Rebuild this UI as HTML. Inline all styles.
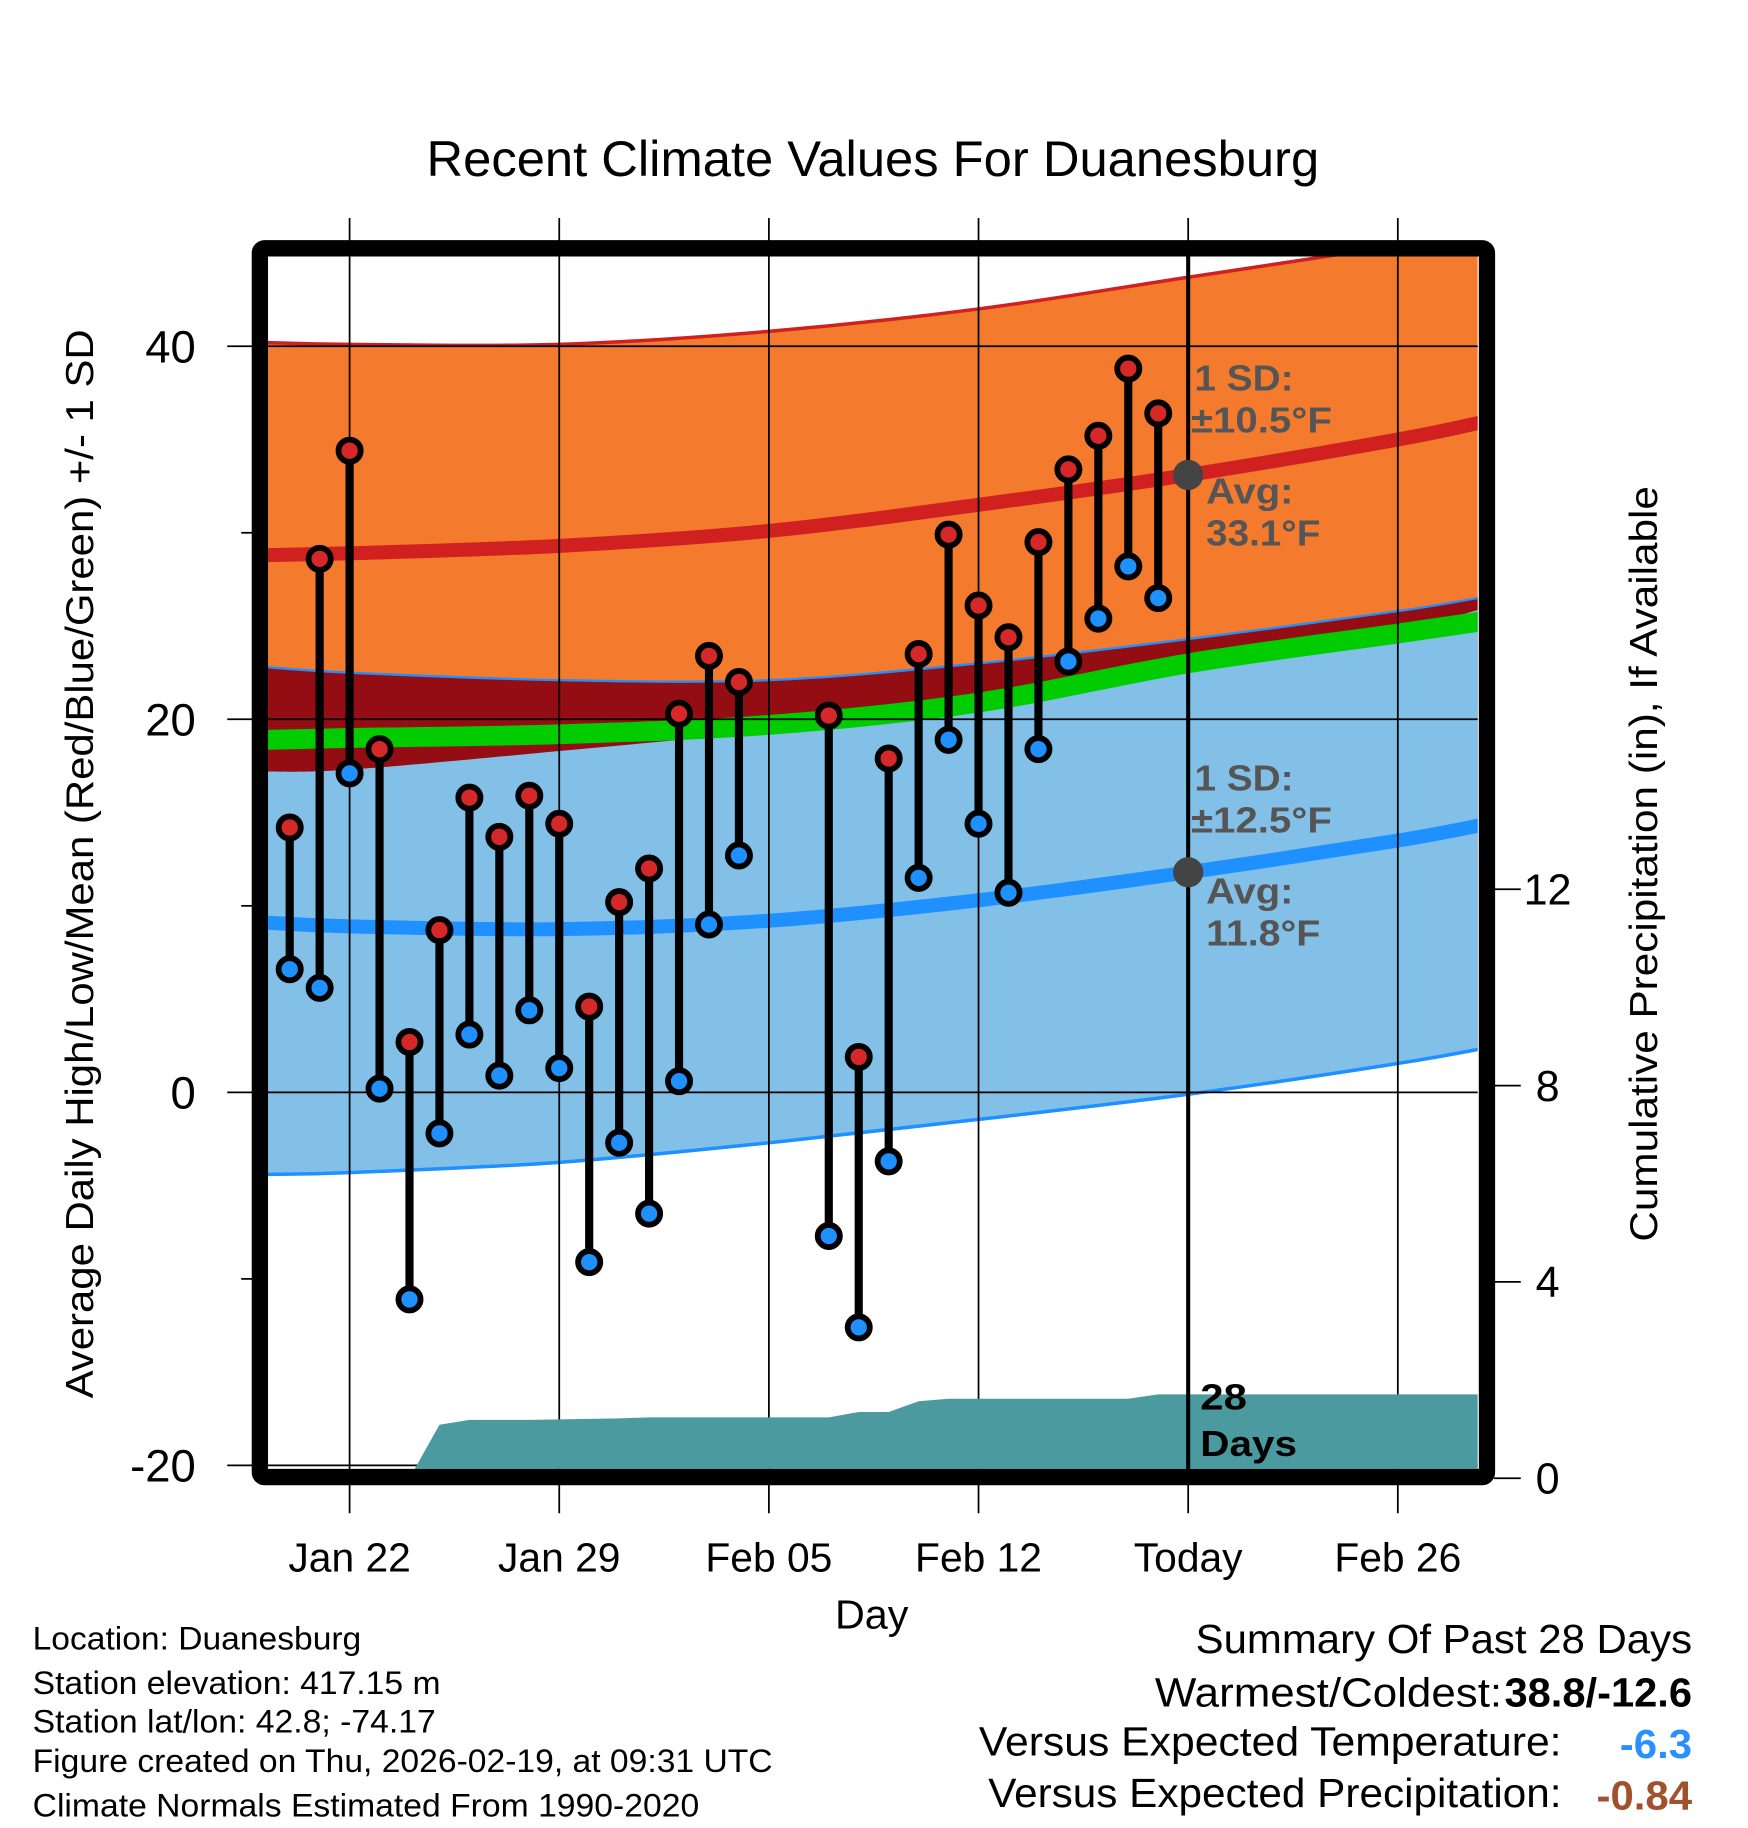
<!DOCTYPE html>
<html><head><meta charset="utf-8"><style>
html,body{margin:0;padding:0;background:#fff}
svg{display:block}
text{font-family:"Liberation Sans",Arial,sans-serif}
</style></head><body>
<svg id="chart" width="1748" height="1828" viewBox="0 0 1500 1568" preserveAspectRatio="none" xmlns="http://www.w3.org/2000/svg">
<defs><clipPath id="plotclip"><rect x="230" y="220" width="1038" height="1040"/></clipPath></defs>
<g id="bands" clip-path="url(#plotclip)"></g>
<g id="grid"></g>
<g id="precip" clip-path="url(#plotclip)"></g>
<g id="marks"></g>
<g id="axes"></g>
<text x="749" y="151" font-size="43" text-anchor="middle" textLength="766" lengthAdjust="spacingAndGlyphs">Recent Climate Values For Duanesburg</text>
<text transform="translate(80,741) rotate(-90)" font-size="33" text-anchor="middle" textLength="917" lengthAdjust="spacingAndGlyphs">Average Daily High/Low/Mean (Red/Blue/Green) +/- 1 SD</text>
<text transform="translate(1422,741) rotate(-90)" font-size="33" text-anchor="middle" textLength="648" lengthAdjust="spacingAndGlyphs">Cumulative Precipitation (in), If Available</text>
<text x="748" y="1397" font-size="35" text-anchor="middle" textLength="63" lengthAdjust="spacingAndGlyphs">Day</text>
<g font-size="31" font-weight="bold" fill="#555">
<text x="1025" y="335" textLength="85" lengthAdjust="spacingAndGlyphs">1 SD:</text><text x="1022" y="371" textLength="121" lengthAdjust="spacingAndGlyphs">±10.5°F</text>
<text x="1035" y="432" textLength="75" lengthAdjust="spacingAndGlyphs">Avg:</text><text x="1035" y="468" textLength="98" lengthAdjust="spacingAndGlyphs">33.1°F</text></g>
<g font-size="31" font-weight="bold" fill="#555">
<text x="1025" y="678" textLength="85" lengthAdjust="spacingAndGlyphs">1 SD:</text><text x="1022" y="714" textLength="121" lengthAdjust="spacingAndGlyphs">±12.5°F</text>
<text x="1035" y="775" textLength="75" lengthAdjust="spacingAndGlyphs">Avg:</text><text x="1035" y="811" textLength="98" lengthAdjust="spacingAndGlyphs">11.8°F</text></g>
<g font-size="31" font-weight="bold" fill="#000">
<text x="1030" y="1209" textLength="40" lengthAdjust="spacingAndGlyphs">28</text><text x="1030" y="1249" textLength="83" lengthAdjust="spacingAndGlyphs">Days</text></g>
<g font-size="28" fill="#000">
<text x="28" y="1415" textLength="282" lengthAdjust="spacingAndGlyphs">Location: Duanesburg</text>
<text x="28" y="1453" textLength="350" lengthAdjust="spacingAndGlyphs">Station elevation: 417.15 m</text>
<text x="28" y="1486" textLength="346" lengthAdjust="spacingAndGlyphs">Station lat/lon: 42.8; -74.17</text>
<text x="28" y="1520" textLength="635" lengthAdjust="spacingAndGlyphs">Figure created on Thu, 2026-02-19, at 09:31 UTC</text>
<text x="28" y="1558" textLength="572" lengthAdjust="spacingAndGlyphs">Climate Normals Estimated From 1990-2020</text></g>
<g font-size="35" fill="#000">
<text x="1026" y="1418" textLength="426" lengthAdjust="spacingAndGlyphs">Summary Of Past 28 Days</text>
<text x="991" y="1464" textLength="298" lengthAdjust="spacingAndGlyphs">Warmest/Coldest:</text>
<text x="1291" y="1464" font-weight="bold" textLength="161" lengthAdjust="spacingAndGlyphs">38.8/-12.6</text>
<text x="840" y="1506" textLength="500" lengthAdjust="spacingAndGlyphs">Versus Expected Temperature:</text>
<text x="1390" y="1508" font-weight="bold" fill="#2a90ff" textLength="62" lengthAdjust="spacingAndGlyphs">-6.3</text>
<text x="848" y="1550" textLength="492" lengthAdjust="spacingAndGlyphs">Versus Expected Precipitation:</text>
<text x="1370" y="1552" font-weight="bold" fill="#a0522d" textLength="82" lengthAdjust="spacingAndGlyphs">-0.84</text></g>
</svg>
<script>
// observed data (day offset from Jan 22)
const obsDays = [-2,-1,0,1,2,3,4,5,6,7,8,9,10,11,12,13,16,17,18,19,20,21,22,23,24,25,26,27];
const highs = [14.2,28.6,34.4,18.4,2.7,8.7,15.8,13.7,15.9,14.4,4.6,10.2,12.0,20.3,23.4,22.0,20.2,1.9,17.9,23.5,29.9,26.1,24.4,29.5,33.4,35.2,38.8,36.4];
const lows = [6.6,5.6,17.1,0.2,-11.1,-2.2,3.1,0.9,4.4,1.3,-9.1,-2.7,-6.5,0.6,9.0,12.7,-7.7,-12.6,-3.7,11.5,18.9,14.4,10.7,18.4,23.1,25.4,28.2,26.5];
const precipCum = [0,0,0,0,0,1.09,1.19,1.19,1.19,1.20,1.21,1.22,1.24,1.24,1.24,1.24,1.24,1.35,1.35,1.57,1.62,1.62,1.62,1.62,1.62,1.62,1.62,1.71];
// normals
const normDays = [-2.8,0,7,14,21,28,35,38];
const highMean = [28.8,28.9,29.3,30.1,31.5,33.1,35.0,36.0];
const highPlus = [40.2,40.1,40.1,40.8,42.0,43.7,45.4,46.3];
const highMinus = [22.8,22.5,22.1,22.1,23.0,24.3,25.8,26.6];
const lowMean = [9.1,8.9,8.75,9.2,10.3,11.8,13.5,14.4];
const lowPlus = [17.2,17.3,18.3,19.4,20.9,22.8,24.8,26.0];
const lowMinus = [-4.4,-4.3,-3.75,-2.7,-1.45,-0.1,1.55,2.4];
const meanTemp = [18.9,19.0,19.2,19.7,20.9,23.0,24.6,25.3];
const xTickDays = [0,7,14,21,28,35];
const xTickLabels = ["Jan 22","Jan 29","Feb 05","Feb 12","Today","Feb 26"];
const yTicks = [40,20,0,-20];
const yMinor = [30,10,-10];
const y2Ticks = [0,4,8,12];

const NS="http://www.w3.org/2000/svg";
const X = d => 300 + 25.7*d;
const Y = v => 937 - 16*v;
const Y2 = p => 1268 - 42.1*p;
function mk(parent, tag, attrs){const e=document.createElementNS(NS,tag);for(const k in attrs)e.setAttribute(k,attrs[k]);document.getElementById(parent).appendChild(e);return e;}
function P(arr){return normDays.map((d,i)=>[X(d),Y(arr[i])]);}
// Catmull-Rom smooth path through points (continuing from current point)
function smooth(p){
  let s="";
  for(let i=0;i<p.length-1;i++){
    const p0=p[i-1]||p[i],p1=p[i],p2=p[i+1],p3=p[i+2]||p[i+1];
    const c1=[p1[0]+(p2[0]-p0[0])/6,p1[1]+(p2[1]-p0[1])/6];
    const c2=[p2[0]-(p3[0]-p1[0])/6,p2[1]-(p3[1]-p1[1])/6];
    s+=` C${c1[0].toFixed(1)},${c1[1].toFixed(1)} ${c2[0].toFixed(1)},${c2[1].toFixed(1)} ${p2[0].toFixed(1)},${p2[1].toFixed(1)}`;
  }
  return s;
}
function band(top,bot,fill,name){
  const a=P(top), b=P(bot).reverse();
  const d=`M${a[0][0]},${a[0][1]}`+smooth(a)+` L${b[0][0]},${b[0][1]}`+smooth(b)+"Z";
  const e=mk('bands','path',{d:d,fill:fill});
  
  
}
function line(arr,stroke,w,name){
  const a=P(arr);
  const e=mk('bands','path',{d:`M${a[0][0]},${a[0][1]}`+smooth(a),fill:'none',stroke:stroke,'stroke-width':w});
  
  
}
band(highMinus,lowMinus,'#930d13','overlap-band');
band(lowPlus,lowMinus,'#82c0e8','low-sd-band');
band(highPlus,highMinus,'#f47a2e','high-sd-band');
line(meanTemp,'#00cc00',17,'mean-temp-line');
line(highMean,'#d02020',12,'high-mean-line');
line(lowMean,'#1e90ff',12,'low-mean-line');
line(highPlus,'#d02020',3,'high-plus-sd-line');
line(highMinus,'#1e90ff',2,'high-minus-sd-line');
line(lowMinus,'#1e90ff',3,'low-minus-sd-line');

// grid
xTickDays.forEach((d,i)=>{
  const g=mk('grid','line',{x1:X(d),x2:X(d),y1:187,y2:1298,stroke:'#000','stroke-width':1.5});
  
  
  const t=mk('axes','text',{x:X(d),y:1348,'font-size':35,'text-anchor':'middle'});
  t.textContent=xTickLabels[i];
  
  
});
yTicks.forEach(v=>{
  const g=mk('grid','line',{x1:195,x2:1268,y1:Y(v),y2:Y(v),stroke:'#000','stroke-width':1.5});
  
  
  const t=mk('axes','text',{x:168,y:Y(v)+14,'font-size':39,'text-anchor':'end'});
  t.textContent=v;
  
  
});
yMinor.forEach(v=>{
  const g=mk('axes','line',{x1:207,x2:218,y1:Y(v),y2:Y(v),stroke:'#000','stroke-width':1.5});
  
  
});
y2Ticks.forEach(p=>{
  const g=mk('axes','line',{x1:1282,x2:1305,y1:Y2(p),y2:Y2(p),stroke:'#000','stroke-width':1.5});
  
  
  const t=mk('axes','text',{x:1328,y:Y2(p)+13,'font-size':37,'text-anchor':'middle'});
  t.textContent=p;
  
  
});

// precip area
{
  let p=[X(obsDays[0])+","+1270];
  obsDays.forEach((d,i)=>p.push(X(d).toFixed(1)+","+Y2(precipCum[i]).toFixed(1)));
  p.push("1270,"+Y2(precipCum[precipCum.length-1]).toFixed(1));
  p.push("1270,1270");
  const e=mk('precip','polygon',{points:p.join(' '),fill:'#4a9aa0'});
  
  
}

// today line
{
  const e=mk('axes','line',{x1:X(28),x2:X(28),y1:215,y2:1262,stroke:'#000','stroke-width':3.5});
  
  
  const a=mk('axes','circle',{cx:X(28),cy:Y(highMean[5]),r:13,fill:'#444'});
  
  
  const b=mk('axes','circle',{cx:X(28),cy:Y(lowMean[5]),r:13,fill:'#444'});
  
  
}

// frame
{
  const f=mk('axes','rect',{x:223,y:213,width:1053,height:1054,fill:'none',stroke:'#000','stroke-width':14,rx:4});
  
  
}

// observations
obsDays.forEach((d,i)=>{
  const x=X(d);
  const s=mk('marks','line',{x1:x,x2:x,y1:Y(highs[i]),y2:Y(lows[i]),stroke:'#000','stroke-width':7});
  
  
  const h=mk('marks','circle',{cx:x,cy:Y(highs[i]),r:9.5,fill:'#d62828',stroke:'#000','stroke-width':5});
  
  
  const l=mk('marks','circle',{cx:x,cy:Y(lows[i]),r:9.5,fill:'#1e90ff',stroke:'#000','stroke-width':5});
  
  
});
</script>
</body></html>
